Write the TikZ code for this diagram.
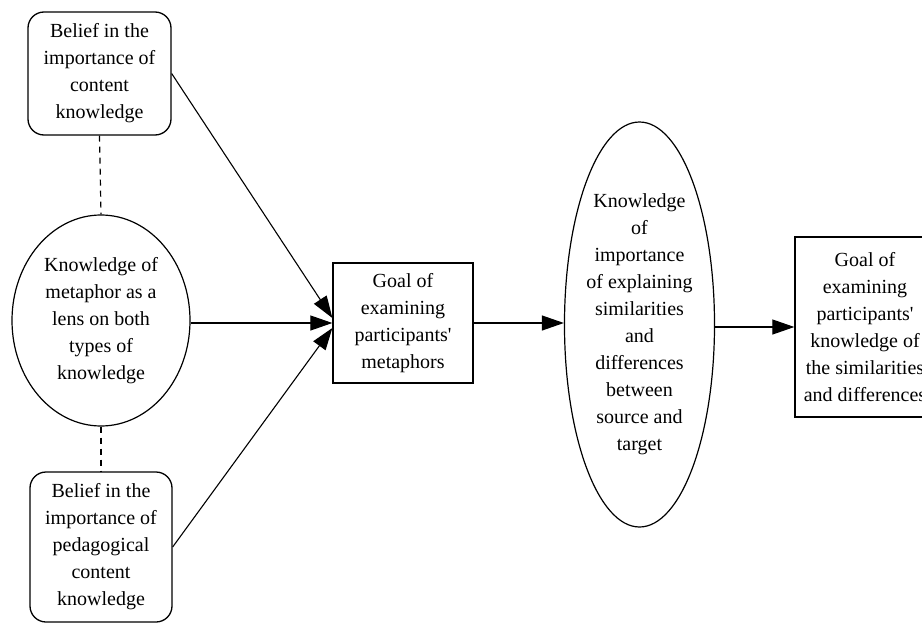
\documentclass[tikz,border=0pt]{standalone}
\usepackage{fontspec}
\setmainfont{Liberation Serif}
\newfontfamily\apfont{Liberation Serif}
\usetikzlibrary{shapes.geometric,arrows.meta}
\newcommand{\apos}{{\apfont'}}
\begin{document}
\begin{tikzpicture}[x=1pt,y=-1pt,
  txt/.style={font=\fontsize{20}{27}\selectfont, align=center, inner sep=0pt},
  roundbox/.style={txt, draw, line width=1.3pt, rounded corners=16pt, minimum width=143pt},
  sqbox/.style={txt, draw, line width=1.3pt, minimum width=140pt},
  oval/.style={txt, draw, ellipse, line width=1.2pt},
  arr/.style={line width=1.1pt, -{Triangle[length=22pt,width=15pt]}},
  dashline/.style={line width=1.2pt, dash pattern=on 6pt off 5pt}
]
\useasboundingbox (0,0) rectangle (922,624);
\clip (0,0) rectangle (922,624);
\node[roundbox, minimum height=123pt] (b1) at (99.5,73.5) {Belief in the\\importance of\\content\\knowledge};
\node[oval, minimum width=178pt, minimum height=211pt] (c1) at (101,320.5) {Knowledge of\\metaphor as a\\lens on both\\types of\\knowledge};
\node[roundbox, minimum width=142pt, minimum height=150pt] (b2) at (101,547) {Belief in the\\importance of\\pedagogical\\content\\knowledge};
\node[sqbox, minimum height=120pt] (g1) at (403,323) {Goal of\\examining\\participants\apos\\metaphors};
\node[oval, minimum width=149pt, minimum height=405pt] (e2) at (639.5,324.5) {Knowledge\\of\\importance\\of explaining\\similarities\\and\\differences\\between\\source and\\target};
\node[sqbox, minimum height=180pt] (g2) at (865,327) {Goal of\\examining\\participants\apos\\knowledge of\\the similarities\\and differences};
\coordinate (m1) at (c1.east |- g1.west);
\coordinate (m2) at (g1.east -| e2.west);
\coordinate (m3) at (e2.east |- g2.west);
\draw[dashline] (b1.south) -- (c1.north);
\draw[dashline] (c1.south) -- (b2.north);
\draw[arr] (b1.east) -- ([yshift=5pt]g1.west);
\draw[arr] (m1) -- (g1.west);
\draw[arr] (b2.east) -- ([yshift=-5pt]g1.west);
\draw[arr] (g1.east) -- (m2);
\draw[arr] (m3) -- (g2.west);
\end{tikzpicture}
\end{document}
